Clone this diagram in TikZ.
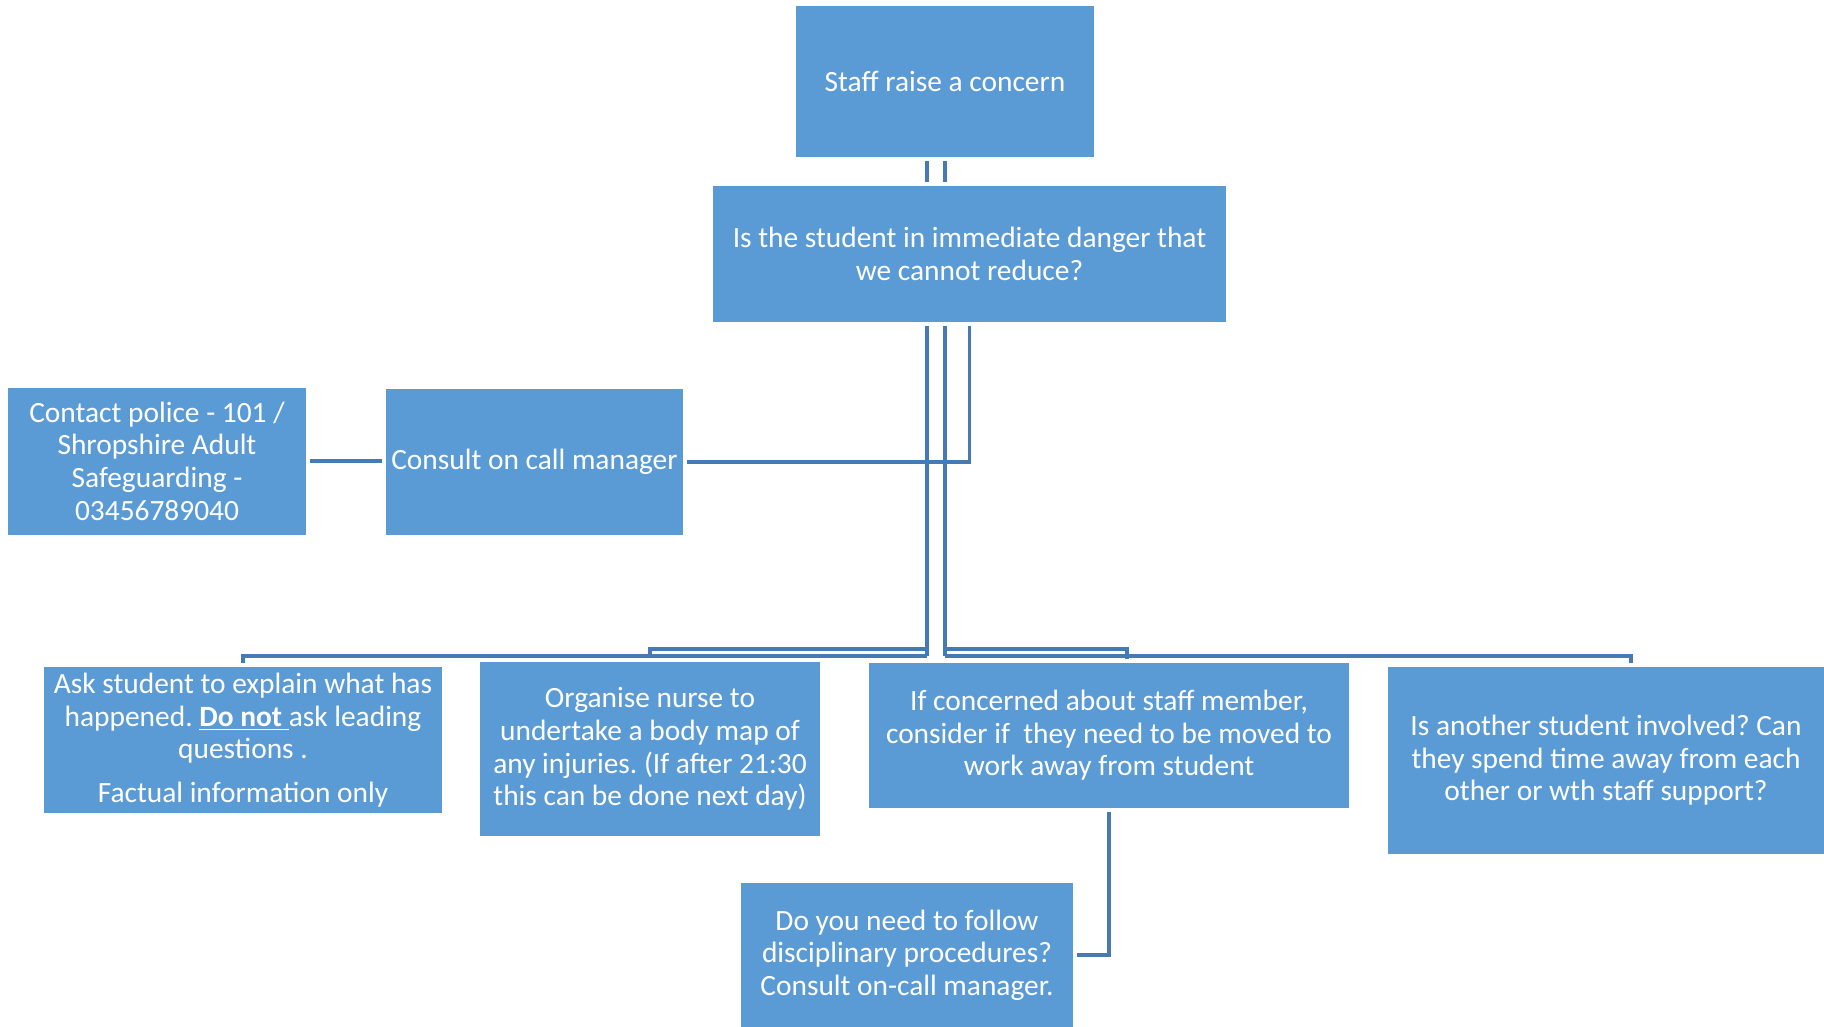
\documentclass[tikz,border=0pt]{standalone}
\usepackage{fontspec}
\setmainfont{Carlito}
\usepackage{tikz}
\usetikzlibrary{positioning,calc}
\definecolor{stagefill}{RGB}{91,155,213}
\definecolor{linkblue}{RGB}{70,122,180}
\frenchspacing

\begin{document}
\begin{tikzpicture}[
  x=0.5pt, y=-0.5pt,
  stage/.style={fill=stagefill, text=white, align=center, inner sep=2pt,
    font=\fontsize{14.7}{16.3}\selectfont},
  link/.style={draw=linkblue, line width=1.6pt, shorten <=1.8pt, shorten >=1.8pt}
]
\useasboundingbox (0,0) rectangle (1824,1027);

\node[stage, minimum width=149pt, minimum height=75.5pt] (concern) at (945,81.5) {Staff raise a concern};
\node[stage, minimum width=256.5pt, minimum height=68pt] (danger) at (969.5,254) {Is the student in immediate danger that\\ we cannot reduce?};
\node[stage, minimum width=149pt, minimum height=73.5pt] (police) at (157,461) {Contact police - 101 /\\ Shropshire Adult\\ Safeguarding -\\ 03456789040};
\node[stage, minimum width=148.5pt, minimum height=73pt] (consult) at (534.5,462) {Consult on call manager};
\node[stage, minimum width=199pt, minimum height=73pt] (ask) at (243,740) {Ask student to explain what has\\ happened. \underline{\textbf{Do not}\ }ask leading\\ questions .\\[5.5pt] Factual information only};
\node[stage, minimum width=170pt, minimum height=87pt] (nurse) at (650,749) {Organise nurse to\\ undertake a body map of\\ any injuries. (If after 21:30\\ this can be done next day)};
\node[stage, minimum width=240pt, minimum height=72.5pt] (staff) at (1109,735.5) {If concerned about staff member,\\ consider if\ \ they need to be moved to\\ work away from student};
\node[stage, minimum width=218pt, minimum height=93.5pt] (other) at (1606,760.5) {Is another student involved? Can\\ they spend time away from each\\ other or wth staff support?};
\node[stage, minimum width=166pt, minimum height=72pt] (discipline) at (907,955) {Do you need to follow\\ disciplinary procedures?\\ Consult on-call manager.};

% trunks and bus levels
\coordinate (trunkL) at (927,0);
\coordinate (trunkR) at (945,0);
\coordinate (busHigh) at (0,649);
\coordinate (busLow) at (0,656);
\coordinate (dropStaff) at (1127,0);
\coordinate (dropOther) at (1631,0);

% first question
\draw[link] (trunkL |- concern.south) -- (trunkL |- danger.north);
\draw[link] (trunkR |- concern.south) -- (trunkR |- danger.north);

% on call manager, routed to the right
\draw[link] (danger.south) |- (consult.east);
\draw[link] (police.east) -- (police.east -| consult.west);

% left branch
\draw[link, shorten >=0pt] (trunkL |- danger.south) -- (trunkL |- busLow);
\draw[link, shorten <=0pt] (trunkL |- busLow) -| (ask.north);
\draw[link, shorten <=0pt] (trunkL |- busHigh) -| (nurse.north);

% right branch
\draw[link, shorten >=0pt] (trunkR |- danger.south) -- (trunkR |- busLow);
\draw[link, shorten <=0pt] (trunkR |- busLow) -| (dropOther |- other.north);
\draw[link, shorten <=0pt] (trunkR |- busHigh) -| (dropStaff |- staff.north);

% staff member follow-up
\draw[link] (staff.south) |- (discipline.east);
\end{tikzpicture}
\end{document}
